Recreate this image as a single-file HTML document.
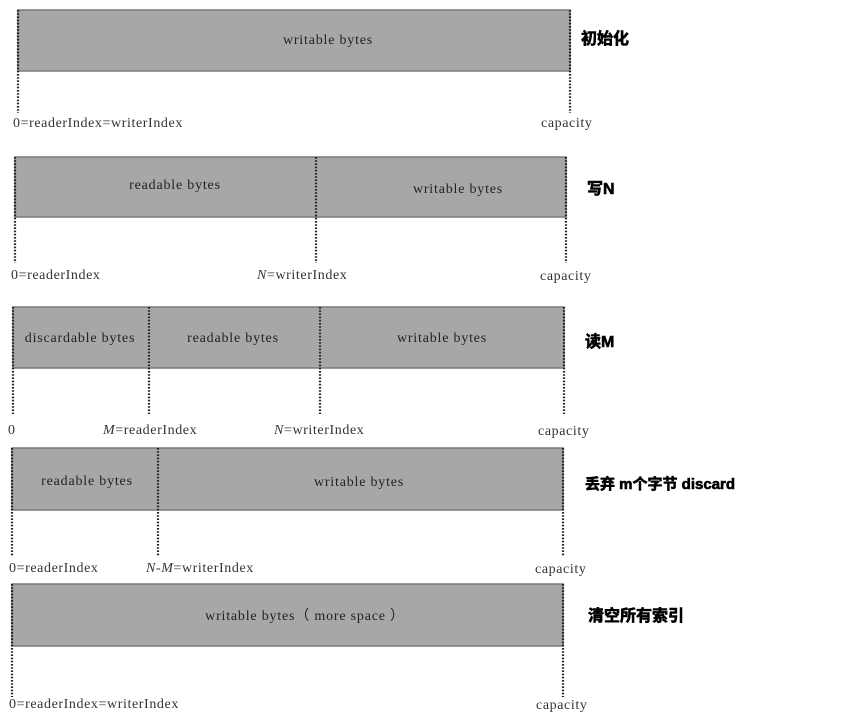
<!DOCTYPE html>
<html><head><meta charset="utf-8"><style>
html,body{margin:0;padding:0;background:#fff;width:852px;height:725px;overflow:hidden}
svg{display:block}
.t{font-family:"Liberation Serif",serif;font-size:14px;letter-spacing:0.6px;fill:#333}
.b{font-family:"Liberation Serif",serif;font-size:14px;letter-spacing:0.8px;fill:#222}
.c{font-family:"Liberation Sans","Noto Sans CJK SC",sans-serif;font-size:16px;font-weight:bold;fill:#000;stroke:#000;stroke-width:0.6}
.bar{fill:#a7a7a7;stroke:#7a7a7a;stroke-width:1.5}
.d{stroke:#222;stroke-width:2.2;stroke-dasharray:1.6 1.6}
</style></head><body>
<svg width="852" height="725" viewBox="0 0 852 725">
<!-- 1 -->
<rect class="bar" x="18" y="10" width="552" height="61"/>
<line class="d" x1="18" y1="10" x2="18" y2="113"/>
<line class="d" x1="570" y1="10" x2="570" y2="113"/>
<text class="b" x="328" y="44" text-anchor="middle">writable bytes</text>
<text class="t" x="13" y="127">0=readerIndex=writerIndex</text>
<text class="t" x="541" y="127">capacity</text>
<text class="c" x="581" y="44">初始化</text>
<!-- 2 -->
<rect class="bar" x="15" y="157" width="551" height="60"/>
<line class="d" x1="15" y1="157" x2="15" y2="263"/>
<line class="d" x1="316" y1="157" x2="316" y2="263"/>
<line class="d" x1="566" y1="157" x2="566" y2="263"/>
<text class="b" x="175" y="189" text-anchor="middle">readable bytes</text>
<text class="b" x="458" y="193" text-anchor="middle">writable bytes</text>
<text class="t" x="11" y="279">0=readerIndex</text>
<text class="t" x="257" y="279"><tspan font-style="italic">N</tspan>=writerIndex</text>
<text class="t" x="540" y="280">capacity</text>
<text class="c" x="587" y="194">写N</text>
<!-- 3 -->
<rect class="bar" x="13" y="307" width="551" height="61"/>
<line class="d" x1="13" y1="307" x2="13" y2="414"/>
<line class="d" x1="149" y1="307" x2="149" y2="414"/>
<line class="d" x1="320" y1="307" x2="320" y2="414"/>
<line class="d" x1="564" y1="307" x2="564" y2="414"/>
<text class="b" x="80" y="342" text-anchor="middle">discardable bytes</text>
<text class="b" x="233" y="342" text-anchor="middle">readable bytes</text>
<text class="b" x="442" y="342" text-anchor="middle">writable bytes</text>
<text class="t" x="8" y="434">0</text>
<text class="t" x="103" y="434"><tspan font-style="italic">M</tspan>=readerIndex</text>
<text class="t" x="274" y="434"><tspan font-style="italic">N</tspan>=writerIndex</text>
<text class="t" x="538" y="435">capacity</text>
<text class="c" x="585" y="347">读M</text>
<!-- 4 -->
<rect class="bar" x="12" y="448" width="551" height="62"/>
<line class="d" x1="12" y1="448" x2="12" y2="556"/>
<line class="d" x1="158" y1="448" x2="158" y2="556"/>
<line class="d" x1="563" y1="448" x2="563" y2="556"/>
<text class="b" x="87" y="485" text-anchor="middle">readable bytes</text>
<text class="b" x="359" y="486" text-anchor="middle">writable bytes</text>
<text class="t" x="9" y="572">0=readerIndex</text>
<text class="t" x="146" y="572"><tspan font-style="italic">N-M</tspan>=writerIndex</text>
<text class="t" x="535" y="573">capacity</text>
<text class="c" x="585" y="489" style="font-size:15px">丢弃 m个字节 discard</text>
<!-- 5 -->
<rect class="bar" x="12" y="584" width="551" height="62"/>
<line class="d" x1="12" y1="584" x2="12" y2="697"/>
<line class="d" x1="563" y1="584" x2="563" y2="697"/>
<text class="b" x="305" y="620" text-anchor="middle">writable bytes（ more space ）</text>
<text class="t" x="9" y="708">0=readerIndex=writerIndex</text>
<text class="t" x="536" y="709">capacity</text>
<text class="c" x="588" y="621">清空所有索引</text>
</svg>
</body></html>
